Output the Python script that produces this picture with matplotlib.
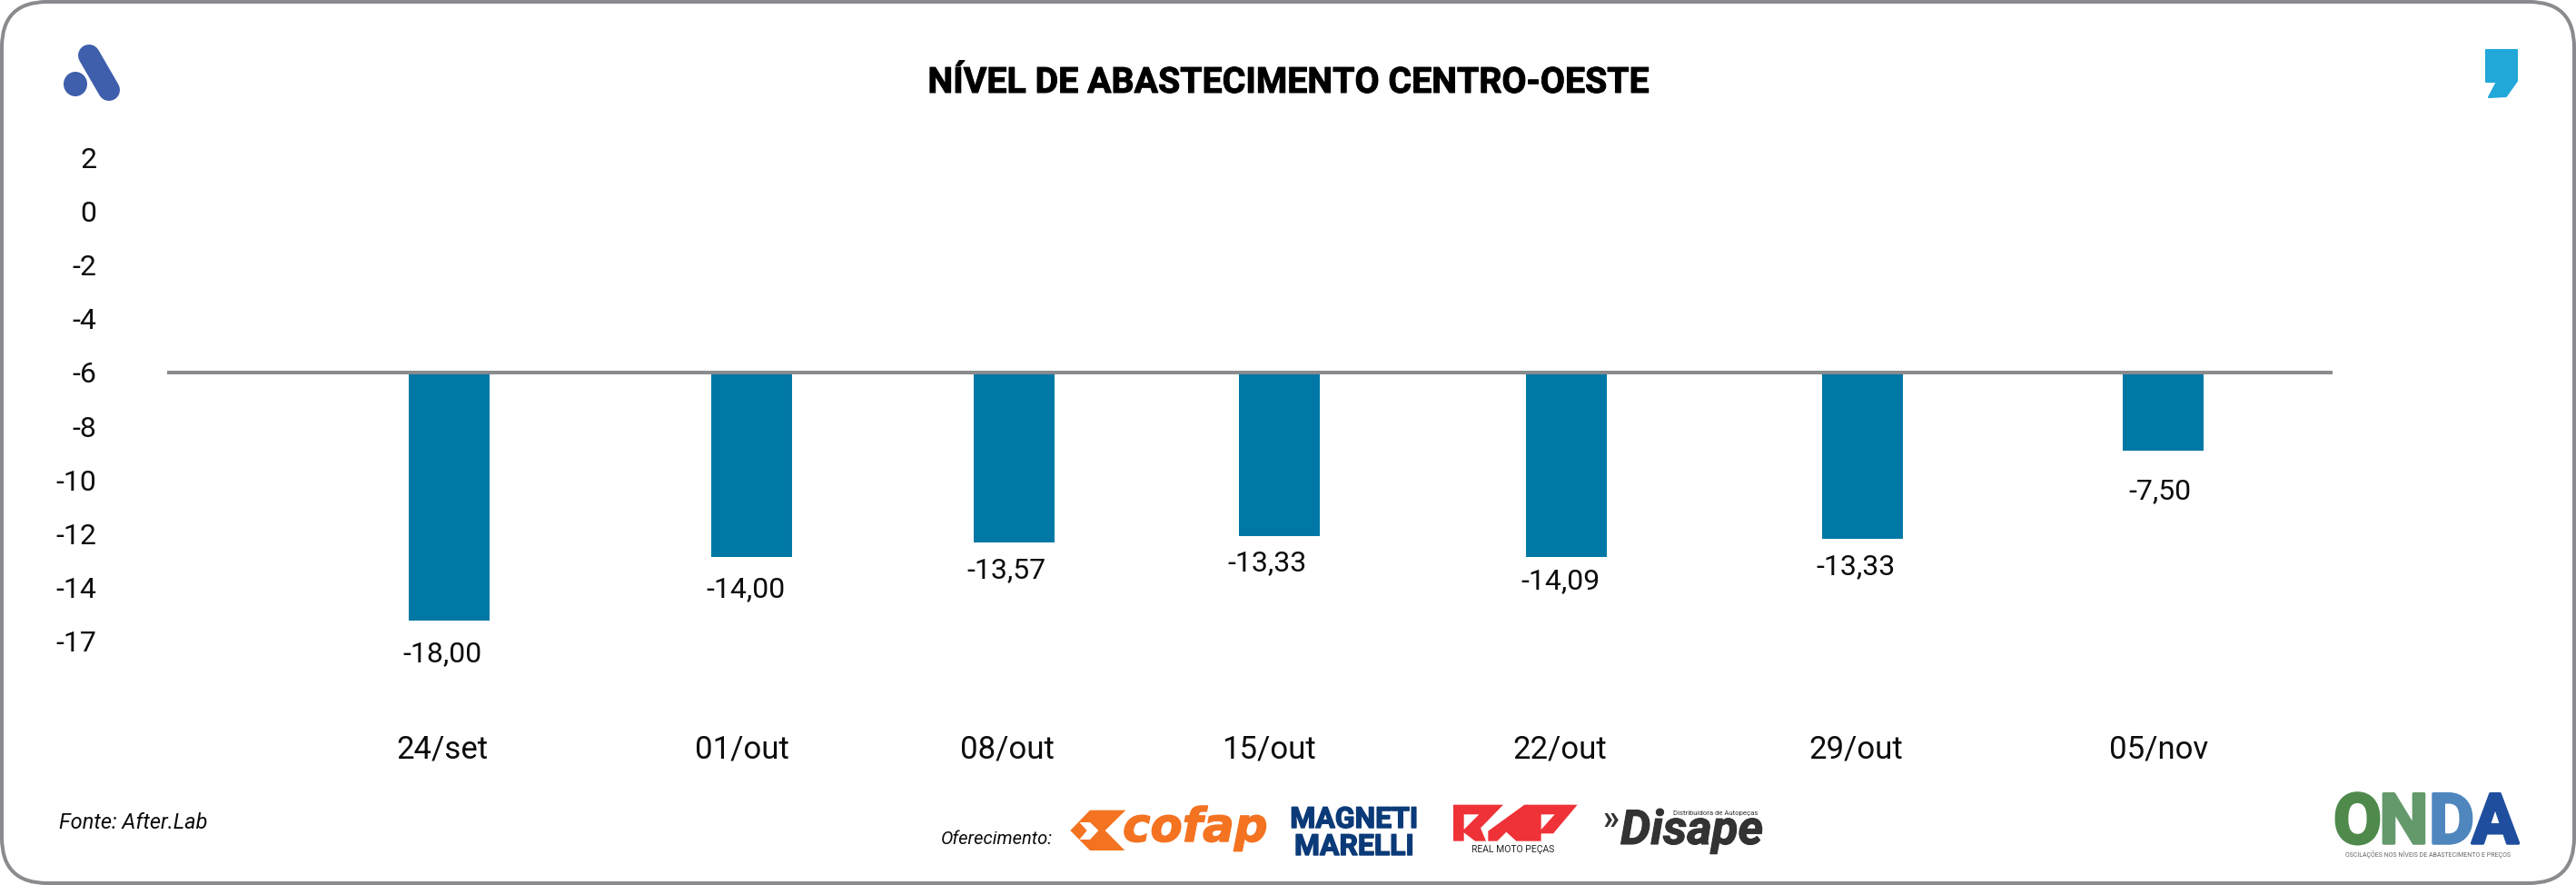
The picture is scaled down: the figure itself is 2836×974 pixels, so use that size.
import numpy as np
import matplotlib
matplotlib.use("Agg")
import matplotlib.pyplot as plt
import matplotlib.patheffects as pe
from matplotlib.patches import FancyBboxPatch, Polygon, Ellipse
from matplotlib.transforms import ScaledTranslation
from matplotlib import font_manager as fm

# ---------- data ----------
categories = ["24/set", "01/out", "08/out", "15/out", "22/out", "29/out", "05/nov"]
printed_values = [-18.00, -14.00, -13.57, -13.33, -14.09, -13.33, -7.50]
# the artwork's bars do not follow the printed figures: where each bar ends on the axis
bar_ends = [-15.23, -12.87, -12.34, -12.10, -12.86, -12.19, -8.91]
baseline = -6
ytick_pos = [2, 0, -2, -4, -6, -8, -10, -12, -14, -16]
ytick_labels = ["2", "0", "-2", "-4", "-6", "-8", "-10", "-12", "-14", "-17"]
title = "NÍVEL DE ABASTECIMENTO CENTRO-OESTE"

# ---------- layout (pixels) ----------
W, H = 2836, 974
bar_x = [494, 827.5, 1116.5, 1408.5, 1724.5, 2050.5, 2381.5]
bar_w = 89
label_dx = [-6.5, -6, -8.5, -13, -6.5, -7.5, -4]
label_dy = [-45, -44, -39, -38, -36, -39, -53]
xtick_dx = [-7.5, -10.5, -7.5, -11.5, -7.5, -7, -4.5]
PX_PER_UNIT, Y0 = 29.55, 232.6

names = {f.name for f in fm.fontManager.ttflist}
NARROW = "Liberation Sans Narrow" if "Liberation Sans Narrow" in names else "Roboto"
plt.rcParams["font.family"] = ["Roboto", "DejaVu Sans"]
TXT = "#0c0c0c"
GREY = "#8A8B8E"

def fat(width, color):
    return [pe.withStroke(linewidth=width, foreground=color)]

fig = plt.figure(figsize=(W / 100, H / 100), dpi=100, facecolor="white")
top_px, bot_px, left_px, right_px = 150, 770, 184, 2568
ax = fig.add_axes([left_px / W, 1 - bot_px / H, (right_px - left_px) / W, (bot_px - top_px) / H])
ax.set_xlim(left_px, right_px)
ax.set_ylim((Y0 - bot_px) / PX_PER_UNIT, (Y0 - top_px) / PX_PER_UNIT)
ax.patch.set_visible(False)
for s in ax.spines.values():
    s.set_visible(False)

ax.bar(bar_x, np.array(bar_ends) - baseline, bottom=baseline, width=bar_w, color="#0078A6", linewidth=0, zorder=2)
ax.axhline(baseline, color=GREY, lw=2.9, zorder=3)

for x, end, v, dx, dy in zip(bar_x, bar_ends, printed_values, label_dx, label_dy):
    ax.annotate(f"{v:.2f}".replace(".", ","), (x, end), xytext=(dx, dy), textcoords="offset pixels",
                ha="center", va="baseline", fontsize=23, color=TXT)

ax.set_yticks(ytick_pos)
ax.set_yticklabels(ytick_labels, fontsize=23, color=TXT, va="center_baseline")
ax.set_xticks(bar_x)
ax.set_xticklabels(categories, fontsize=25, color=TXT)
ax.tick_params(axis="y", length=0, pad=56)
ax.tick_params(axis="x", length=0, pad=28)
for lab, dx in zip(ax.get_xticklabels(), xtick_dx):
    lab.set_transform(lab.get_transform() + ScaledTranslation(dx / 100, 0, fig.dpi_scale_trans))

# ---------- decoration, in pixel coordinates ----------
d = fig.add_axes([0, 0, 1, 1], zorder=5)
d.set_xlim(0, W)
d.set_ylim(H, 0)
d.axis("off")

d.add_patch(FancyBboxPatch((2, 2), W - 4, H - 4, boxstyle="round,pad=0,rounding_size=50",
                           fc="none", ec=GREY, lw=2.9))
d.text(1418, 102, title, ha="center", va="baseline", fontsize=28.3, fontweight="bold", color="#000000",
       path_effects=fat(0.7, "#000000"))

# top-left mark
d.plot([98, 120], [61, 99], color="#3F5EAC", lw=17.3, solid_capstyle="round")
d.add_patch(Ellipse((83, 92.5), 26, 27, fc="#3F5EAC", ec="none"))
# top-right mark
d.add_patch(Polygon([(2737, 55), (2771, 55), (2771, 89), (2759, 106), (2740, 107), (2749, 90), (2737, 90)],
                    closed=True, fc="#22A7D9", ec="#22A7D9", lw=1.5, joinstyle="round"))

# footer
d.text(65, 912, "Fonte: After.Lab", fontsize=17, style="italic", color=TXT, va="baseline")
d.text(1036, 929, "Oferecimento:", fontsize=14.5, style="italic", color=TXT, va="baseline")

# Cofap
def z10(pts):
    return [(1020 + x / 3, 870 + y / 3) for x, y in pts]
ORANGE = "#F47321"
d.add_patch(Polygon(z10([(540, 65), (658, 65), (590, 132), (655, 198), (540, 198), (475, 132)]), fc=ORANGE, ec="none"))
d.add_patch(Polygon(z10([(505, 105), (540, 105), (568, 132), (540, 162), (505, 162), (530, 132)]), fc="white", ec="none"))
d.text(1236, 926, "cofap", family="DejaVu Sans", fontsize=37, fontweight="bold", style="italic", color=ORANGE,
       va="baseline", path_effects=fat(1.0, ORANGE))

# Magneti Marelli
NAVY = "#0B3A78"
d.text(1491, 911, "MAGNETI", family=NARROW, fontsize=23, fontweight="bold", color=NAVY, ha="center", va="baseline",
       path_effects=fat(1.0, NAVY))
d.text(1491, 941, "MARELLI", family=NARROW, fontsize=23, fontweight="bold", color=NAVY, ha="center", va="baseline",
       path_effects=fat(1.0, NAVY))

# RMP
def zr(pts):
    return [(1590 + x / 3, 878 + y / 3) for x, y in pts]
RED = "#EE3238"
d.add_patch(Polygon(zr([(30, 23), (195, 23), (120, 100), (138, 143), (102, 143), (65, 115), (65, 143), (30, 143)]), fc=RED, ec="none"))
d.add_patch(Polygon(zr([(65, 55), (115, 55), (65, 105)]), fc="white", ec="none"))
d.add_patch(Polygon(zr([(265, 23), (276, 23), (276, 143), (238, 143), (205, 113), (175, 143), (145, 143), (145, 110)]), fc=RED, ec="none"))
d.add_patch(Polygon(zr([(275, 23), (440, 23), (360, 118), (320, 118), (320, 143), (275, 143)]), fc=RED, ec="none"))
d.add_patch(Polygon(zr([(320, 55), (365, 55), (320, 105)]), fc="white", ec="none"))
d.text(1666, 938, "REAL MOTO PEÇAS", fontsize=7.5, color="#222222", ha="center", va="baseline")

# Disape
DARK = "#333333"
d.text(1764, 912, "»", fontsize=26, fontweight="bold", color=DARK, va="baseline")
d.text(1784, 929, "Disape", fontsize=38, fontweight="bold", style="italic", color=DARK, va="baseline",
       path_effects=fat(0.8, DARK))
d.text(1842, 897, "Distribuidora de Autopeças", fontsize=5.6, color=DARK, va="baseline")

# ONDA
onda_x = [2595.5, 2646.5, 2699, 2747]
onda_c = ["#4F8A4C", "#64996C", "#4F86BE", "#1F4E9E"]
for ch, x, c in zip("ONDA", onda_x, onda_c):
    d.text(x, 928, ch, family=NARROW, fontsize=55, fontweight="bold", color=c, ha="center", va="baseline",
           path_effects=fat(2.5, c))
d.text(2672.5, 943, "OSCILAÇÕES NOS NÍVEIS DE ABASTECIMENTO E PREÇOS", fontsize=5, color="#666666", ha="center", va="baseline")

fig.savefig("out.png", dpi=100, facecolor="white")
